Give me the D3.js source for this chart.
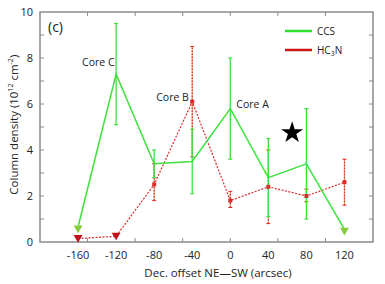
<!DOCTYPE html>
<html>
<head>
<meta charset="utf-8">
<script src="https://cdn.jsdelivr.net/npm/d3@7"></script>
<style>
  body { margin: 0; background: #fff; }
  text { font-family: "Open Sans", "DejaVu Sans", sans-serif; fill: #222; }
</style>
</head>
<body>
<svg id="chart" width="385" height="284"></svg>
<script>
var offsets = [-160, -120, -80, -40, 0, 40, 80, 120];
var tickLabels = ["-160", "-120", "-80", "-40", "0", "40", "80", "120"];

var ccs    = [0.65, 7.3, 3.4, 3.5, 5.8, 2.8, 3.4, 0.55];
var ccsLo  = [null, 5.1, 2.8, 2.1, 3.6, 1.1, 1.0, null];
var ccsHi  = [null, 9.5, 4.0, 4.9, 8.0, 4.5, 5.8, null];
var ccsLim = [true, false, false, false, false, false, false, true];

var hc3n    = [0.15, 0.25, 2.5, 6.1, 1.8, 2.4, 2.0, 2.6];
var hc3nLo  = [null, null, 1.8, 3.7, 1.5, 0.8, 1.75, 1.6];
var hc3nHi  = [null, null, 3.4, 8.5, 2.2, 4.0, 2.3, 3.6];
var hc3nLim = [true, true, false, false, false, false, false, false];

var cores = [
  {name: "Core C", x: -120, y: 7.3, dx: -34, dy: -8},
  {name: "Core B", x: -40, y: 6.1, dx: -36, dy: -1},
  {name: "Core A", x: 0, y: 5.8, dx: 6, dy: -1}
];

var green = "#3de23d";
var red = "#e02a2a";

var svg = d3.select("#chart");
var margin = {left: 40, top: 12, right: 12, bottom: 42};
var W = 385, H = 284;

var x = d3.scaleLinear().domain([-200, 150]).range([margin.left, W - margin.right]);
var y = d3.scaleLinear().domain([0, 10]).range([H - margin.bottom, margin.top]);

// frame
svg.append("rect")
  .attr("x", x(-200)).attr("y", y(10))
  .attr("width", x(150) - x(-200)).attr("height", y(0) - y(10))
  .attr("fill", "none").attr("stroke", "#8a8a8a").attr("stroke-width", 1.5);

// inward ticks
var yTicks = d3.range(1, 10);
var xTicks = [-150, -100, -50, 0, 50, 100];
svg.append("g").selectAll("line.yl").data(yTicks).enter().append("line")
  .attr("x1", x(-200)).attr("x2", x(-200) + 4)
  .attr("y1", function(d) { return y(d); }).attr("y2", function(d) { return y(d); })
  .attr("stroke", "#8a8a8a");
svg.append("g").selectAll("line.yr").data(yTicks).enter().append("line")
  .attr("x1", x(150)).attr("x2", x(150) - 4)
  .attr("y1", function(d) { return y(d); }).attr("y2", function(d) { return y(d); })
  .attr("stroke", "#8a8a8a");
svg.append("g").selectAll("line.xt").data(xTicks).enter().append("line")
  .attr("x1", function(d) { return x(d); }).attr("x2", function(d) { return x(d); })
  .attr("y1", y(10)).attr("y2", y(10) + 4)
  .attr("stroke", "#8a8a8a");
svg.append("g").selectAll("line.xb").data(xTicks).enter().append("line")
  .attr("x1", function(d) { return x(d); }).attr("x2", function(d) { return x(d); })
  .attr("y1", y(0)).attr("y2", y(0) - 4)
  .attr("stroke", "#8a8a8a");

// tick labels
svg.append("g").selectAll("text").data([0, 2, 4, 6, 8, 10]).enter().append("text")
  .attr("x", x(-200) - 7).attr("y", function(d) { return y(d) + 4; })
  .attr("text-anchor", "end").attr("font-size", 11)
  .text(function(d) { return d; });
svg.append("g").selectAll("text").data(offsets).enter().append("text")
  .attr("x", function(d) { return x(d); }).attr("y", y(0) + 17)
  .attr("text-anchor", "middle").attr("font-size", 11)
  .text(function(d, i) { return tickLabels[i]; });

// axis titles
svg.append("text")
  .attr("x", 218).attr("y", 277)
  .attr("text-anchor", "middle").attr("font-size", 11.5)
  .text("Dec. offset NE\u2014SW (arcsec)");
var yt = svg.append("text")
  .attr("transform", "translate(18," + y(5.1) + ") rotate(-90)")
  .attr("text-anchor", "middle").attr("font-size", 11.5);
yt.append("tspan").text("Column density (10");
yt.append("tspan").attr("font-size", 7).attr("dy", -5).text("12");
yt.append("tspan").attr("dy", 5).text(" cm");
yt.append("tspan").attr("font-size", 7).attr("dy", -5).text("-2");
yt.append("tspan").attr("dy", 5).text(")");

svg.append("text").attr("x", 48).attr("y", 32).attr("font-size", 14).text("(c)");

function idx(arr) { return arr.map(function(v, i) { return i; }); }

// HC3N error bars (dotted)
var hcErr = idx(offsets).filter(function(i) { return hc3nLo[i] != null; });
var gHe = svg.append("g");
gHe.selectAll("line.b").data(hcErr).enter().append("line")
  .attr("x1", function(i) { return x(offsets[i]); }).attr("x2", function(i) { return x(offsets[i]); })
  .attr("y1", function(i) { return y(hc3nLo[i]); }).attr("y2", function(i) { return y(hc3nHi[i]); })
  .attr("stroke", "#b8862a").attr("stroke-width", 1).attr("opacity", 0.7);
gHe.selectAll("line.d").data(hcErr).enter().append("line")
  .attr("x1", function(i) { return x(offsets[i]); }).attr("x2", function(i) { return x(offsets[i]); })
  .attr("y1", function(i) { return y(hc3nLo[i]); }).attr("y2", function(i) { return y(hc3nHi[i]); })
  .attr("stroke", red).attr("stroke-width", 1.3).attr("stroke-dasharray", "1.5,1.5");
["lo", "hi"].forEach(function(k) {
  gHe.selectAll("line.c" + k).data(hcErr).enter().append("line")
    .attr("x1", function(i) { return x(offsets[i]) - 2; }).attr("x2", function(i) { return x(offsets[i]) + 2; })
    .attr("y1", function(i) { return y(k == "lo" ? hc3nLo[i] : hc3nHi[i]); })
    .attr("y2", function(i) { return y(k == "lo" ? hc3nLo[i] : hc3nHi[i]); })
    .attr("stroke", red).attr("stroke-width", 1);
});

// CCS error bars
var ccErr = idx(offsets).filter(function(i) { return ccsLo[i] != null; });
var gCe = svg.append("g");
gCe.selectAll("line.b").data(ccErr).enter().append("line")
  .attr("x1", function(i) { return x(offsets[i]); }).attr("x2", function(i) { return x(offsets[i]); })
  .attr("y1", function(i) { return y(ccsLo[i]); }).attr("y2", function(i) { return y(ccsHi[i]); })
  .attr("stroke", green).attr("stroke-width", 1.3);
["lo", "hi"].forEach(function(k) {
  gCe.selectAll("line.c" + k).data(ccErr).enter().append("line")
    .attr("x1", function(i) { return x(offsets[i]) - 2; }).attr("x2", function(i) { return x(offsets[i]) + 2; })
    .attr("y1", function(i) { return y(k == "lo" ? ccsLo[i] : ccsHi[i]); })
    .attr("y2", function(i) { return y(k == "lo" ? ccsLo[i] : ccsHi[i]); })
    .attr("stroke", green).attr("stroke-width", 1.2);
});

// lines
var line = d3.line()
  .x(function(d) { return x(d[0]); })
  .y(function(d) { return y(d[1]); });

svg.append("path")
  .datum(offsets.map(function(o, i) { return [o, hc3n[i]]; }))
  .attr("d", line).attr("fill", "none")
  .attr("stroke", red).attr("stroke-width", 1.2).attr("stroke-dasharray", "2,1.5");

svg.append("path")
  .datum(offsets.map(function(o, i) { return [o, ccs[i]]; }))
  .attr("d", line).attr("fill", "none")
  .attr("stroke", green).attr("stroke-width", 1.5);

// HC3N point markers
svg.append("g").selectAll("rect")
  .data(idx(offsets).filter(function(i) { return !hc3nLim[i]; }))
  .enter().append("rect")
  .attr("x", function(i) { return x(offsets[i]) - 2; })
  .attr("y", function(i) { return y(hc3n[i]) - 2; })
  .attr("width", 4).attr("height", 4).attr("fill", red);

// upper-limit triangles
var tri = d3.symbol().type(d3.symbolTriangle).size(34);
svg.append("g").selectAll("path")
  .data(idx(offsets).filter(function(i) { return ccsLim[i]; }))
  .enter().append("path")
  .attr("d", tri)
  .attr("transform", function(i) { return "translate(" + x(offsets[i]) + "," + (y(ccs[i]) + 1) + ") rotate(180)"; })
  .attr("fill", "#86cc3c");
svg.append("g").selectAll("path")
  .data(idx(offsets).filter(function(i) { return hc3nLim[i]; }))
  .enter().append("path")
  .attr("d", tri)
  .attr("transform", function(i) { return "translate(" + x(offsets[i]) + "," + (y(hc3n[i]) - 1) + ") rotate(180)"; })
  .attr("fill", "#c0101a");

// core labels
svg.append("g").selectAll("text").data(cores).enter().append("text")
  .attr("x", function(d) { return x(d.x) + d.dx; })
  .attr("y", function(d) { return y(d.y) + d.dy; })
  .attr("font-size", 10.5)
  .text(function(d) { return d.name; });

// star
svg.append("path")
  .attr("d", d3.symbol().type(d3.symbolStar).size(150))
  .attr("transform", "translate(" + x(65) + "," + y(4.75) + ")")
  .attr("fill", "#000");

// legend
var legend = [
  {color: "#2ee02e", label: "CCS", y: 31},
  {color: "#cc1515", label: "HC", y: 50}
];
legend.forEach(function(l) {
  svg.append("line").attr("x1", 285).attr("x2", 312)
    .attr("y1", l.y).attr("y2", l.y)
    .attr("stroke", l.color).attr("stroke-width", 2.5);
});
svg.append("text").attr("x", 317).attr("y", 35).attr("font-size", 10).text("CCS");
var ht = svg.append("text").attr("x", 317).attr("y", 54).attr("font-size", 10);
ht.append("tspan").text("HC");
ht.append("tspan").attr("font-size", 7).attr("dy", 2).text("3");
ht.append("tspan").attr("dy", -2).text("N");
</script>
</body>
</html>
